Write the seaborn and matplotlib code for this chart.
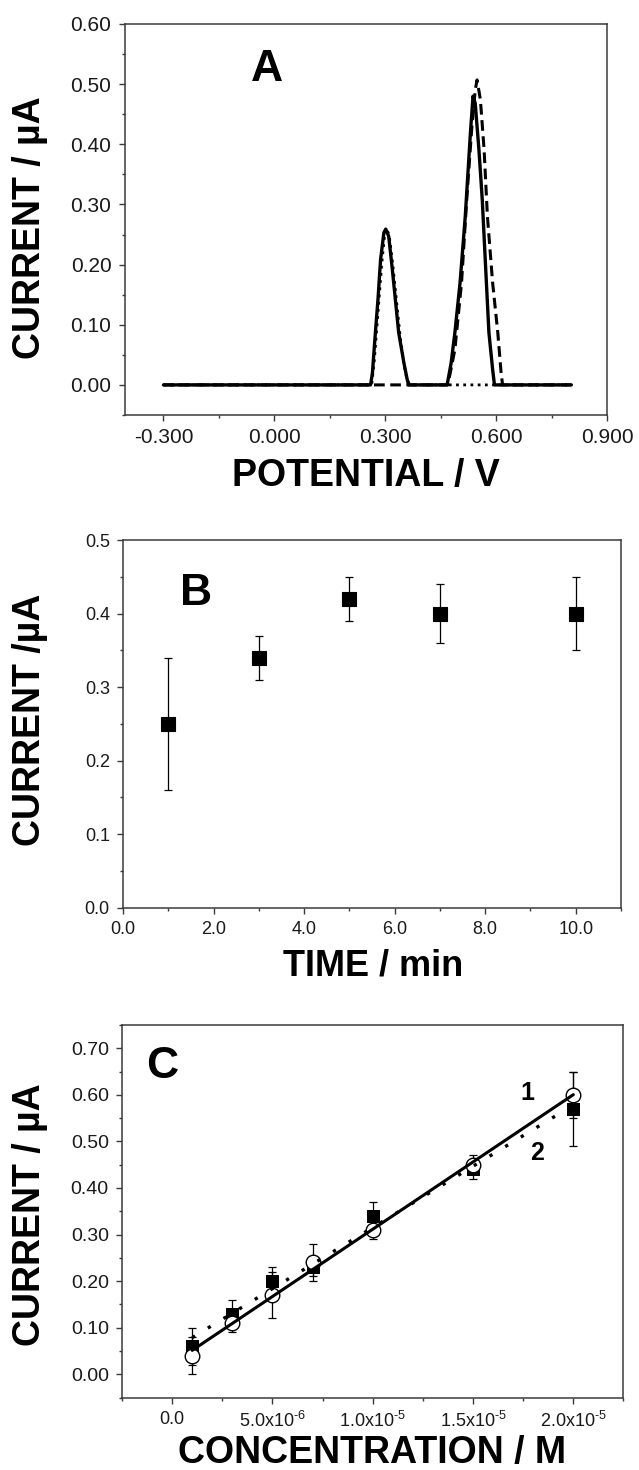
import matplotlib
matplotlib.use("Agg")
import matplotlib.pyplot as plt
import seaborn as sns
import numpy as np
import pandas as pd
from matplotlib.ticker import MultipleLocator, FixedLocator, FixedFormatter, FormatStrFormatter

# ---------------- data ----------------
# Panel A: differential pulse voltammograms
a_solid_x = [-0.300, 0.260, 0.265, 0.273, 0.280, 0.287, 0.296, 0.301, 0.309, 0.318, 0.327,
             0.336, 0.350, 0.359, 0.363, 0.467, 0.478, 0.488, 0.502, 0.516, 0.530, 0.537,
             0.543, 0.553, 0.562, 0.571, 0.580, 0.590, 0.595, 0.803]
a_solid_y = [0.000, 0.000, 0.020, 0.087, 0.142, 0.208, 0.253, 0.259, 0.247, 0.197, 0.142,
             0.087, 0.037, 0.009, 0.000, 0.000, 0.037, 0.087, 0.170, 0.280, 0.419, 0.480,
             0.468, 0.391, 0.308, 0.197, 0.087, 0.026, 0.000, 0.000]
a_dot_x = [-0.300, 0.263, 0.270, 0.280, 0.290, 0.298, 0.302, 0.310, 0.320, 0.330, 0.340,
           0.350, 0.358, 0.366, 0.803]
a_dot_y = [0.000, 0.000, 0.040, 0.120, 0.200, 0.250, 0.260, 0.250, 0.200, 0.140, 0.080,
           0.035, 0.010, 0.000, 0.000]
a_dash_x = [-0.300, 0.469, 0.488, 0.506, 0.520, 0.534, 0.543, 0.548, 0.557, 0.567, 0.576,
            0.590, 0.604, 0.613, 0.617, 0.803]
a_dash_y = [0.000, 0.000, 0.059, 0.170, 0.308, 0.430, 0.490, 0.507, 0.474, 0.391, 0.280,
            0.170, 0.087, 0.020, 0.000, 0.000]

# Panel B: current vs accumulation time
b_time = [1, 3, 5, 7, 10]
b_current = [0.25, 0.34, 0.42, 0.40, 0.40]
b_err = [0.09, 0.03, 0.03, 0.04, 0.05]

# Panel C: calibration
c_conc = [1e-6, 3e-6, 5e-6, 7e-6, 1e-5, 1.5e-5, 2e-5]
c1_current = [0.04, 0.11, 0.17, 0.24, 0.31, 0.45, 0.60]   # open circles, curve 1
c1_err = [0.04, 0.02, 0.05, 0.04, 0.02, 0.02, 0.05]
c2_current = [0.06, 0.13, 0.20, 0.23, 0.34, 0.44, 0.57]   # filled squares, curve 2
c2_err = [0.04, 0.03, 0.03, 0.02, 0.03, 0.02, 0.08]
c_xticks = [0.0, 5e-6, 1e-5, 1.5e-5, 2e-5]
c_xticklabels = ["0.0", "5.0x10$^{\u20106}$", "1.0x10$^{\u20105}$", "1.5x10$^{\u20105}$", "2.0x10$^{\u20105}$"]

# ---------------- style ----------------
sns.set_theme(style="ticks")
plt.rcParams["font.family"] = ["Liberation Sans", "DejaVu Sans"]
plt.rcParams["mathtext.fontset"] = "custom"
plt.rcParams["mathtext.rm"] = "Liberation Sans"
plt.rcParams["mathtext.it"] = "Liberation Sans:italic"
plt.rcParams["mathtext.bf"] = "Liberation Sans:bold"
plt.rcParams["axes.unicode_minus"] = False
plt.rcParams["text.color"] = "black"
plt.rcParams["axes.labelcolor"] = "black"
SPINE = "#3a3a3a"

fig = plt.figure(figsize=(6.39, 14.7), dpi=100)
axA = fig.add_axes([0.1951, 0.7177, 0.7552, 0.2660])
axB = fig.add_axes([0.1925, 0.3825, 0.7793, 0.2501])
axC = fig.add_axes([0.1909, 0.0493, 0.7848, 0.2534])


def style_axes(ax, labelsize):
    for s in ax.spines.values():
        s.set_visible(True)
        s.set_color(SPINE)
        s.set_linewidth(1.1)
    ax.tick_params(which="both", direction="out", color=SPINE, width=1.0,
                   top=False, right=False)
    ax.tick_params(which="major", length=4.5, pad=5, labelsize=labelsize, labelcolor="#1a1a1a")
    ax.tick_params(which="minor", length=2.5)
    ax.grid(False)
    ax.set_facecolor("white")


# ---------------- Panel A ----------------
dfA_dot = pd.DataFrame({"x": a_dot_x, "y": a_dot_y})
dfA_dash = pd.DataFrame({"x": a_dash_x, "y": a_dash_y})
dfA_solid = pd.DataFrame({"x": a_solid_x, "y": a_solid_y})
sns.lineplot(data=dfA_dot, x="x", y="y", ax=axA, color="black", lw=2.0,
             linestyle=(0, (1, 1.6)), estimator=None, sort=False)
sns.lineplot(data=dfA_dash, x="x", y="y", ax=axA, color="black", lw=2.2,
             linestyle=(0, (3.5, 1.8)), estimator=None, sort=False)
sns.lineplot(data=dfA_solid, x="x", y="y", ax=axA, color="black", lw=2.4,
             estimator=None, sort=False)
axA.set_xlim(-0.405, 0.9)
axA.set_ylim(-0.05, 0.60)
axA.xaxis.set_major_locator(FixedLocator([-0.3, 0.0, 0.3, 0.6, 0.9]))
axA.xaxis.set_minor_locator(MultipleLocator(0.15))
axA.xaxis.set_major_formatter(FormatStrFormatter("%.3f"))
axA.yaxis.set_major_locator(MultipleLocator(0.1))
axA.yaxis.set_minor_locator(MultipleLocator(0.05))
axA.yaxis.set_major_formatter(FormatStrFormatter("%.2f"))
style_axes(axA, 15)
axA.set_xlabel("POTENTIAL / V", fontsize=27, fontweight="bold", va="center")
axA.set_ylabel("CURRENT / µA", fontsize=27, fontweight="bold", va="center")
axA.xaxis.set_label_coords(0.499, -0.157)
axA.yaxis.set_label_coords(-0.196, 0.478)
axA.text(-0.019, 0.524, "A", fontsize=32, fontweight="bold", ha="center", va="center")

# ---------------- Panel B ----------------
axB.errorbar(b_time, b_current, yerr=b_err, fmt="none", ecolor="black",
             elinewidth=0.9, capsize=3, capthick=0.9, zorder=2)
sns.scatterplot(x=b_time, y=b_current, ax=axB, marker="s", s=100, color="black",
                edgecolor="black", zorder=3)
axB.set_xlim(0, 11)
axB.set_ylim(0, 0.5)
axB.xaxis.set_major_locator(MultipleLocator(2))
axB.xaxis.set_minor_locator(MultipleLocator(1))
axB.xaxis.set_major_formatter(FormatStrFormatter("%.1f"))
axB.yaxis.set_major_locator(MultipleLocator(0.1))
axB.yaxis.set_minor_locator(MultipleLocator(0.05))
axB.yaxis.set_major_formatter(FormatStrFormatter("%.1f"))
style_axes(axB, 13)
axB.set_xlabel("TIME / min", fontsize=26, fontweight="bold", va="center")
axB.set_ylabel("CURRENT /µA", fontsize=27, fontweight="bold", va="center")
axB.xaxis.set_label_coords(0.502, -0.159)
axB.yaxis.set_label_coords(-0.187, 0.51)
axB.text(1.62, 0.427, "B", fontsize=32, fontweight="bold", ha="center", va="center")

# ---------------- Panel C ----------------
axC.errorbar(c_conc, c2_current, yerr=c2_err, fmt="none", ecolor="black",
             elinewidth=0.9, capsize=3, capthick=0.9, zorder=2)
axC.errorbar(c_conc, c1_current, yerr=c1_err, fmt="none", ecolor="black",
             elinewidth=0.9, capsize=3, capthick=0.9, zorder=2)
sns.scatterplot(x=c_conc, y=c2_current, ax=axC, marker="s", s=85, color="black",
                edgecolor="black", zorder=3)
sns.scatterplot(x=c_conc, y=c1_current, ax=axC, marker="o", s=110, facecolor="white",
                edgecolor="black", linewidth=1.0, zorder=4)
sns.regplot(x=c_conc, y=c2_current, ax=axC, ci=None, scatter=False, truncate=True,
            line_kws=dict(color="black", lw=2.4, linestyle=(0, (1, 4.5)), zorder=5))
sns.regplot(x=c_conc, y=c1_current, ax=axC, ci=None, scatter=False, truncate=True,
            line_kws=dict(color="black", lw=2.2, zorder=5))
axC.set_xlim(-2.5e-6, 2.25e-5)
axC.set_ylim(-0.05, 0.75)
axC.xaxis.set_major_locator(FixedLocator(c_xticks))
axC.xaxis.set_major_formatter(FixedFormatter(c_xticklabels))
axC.xaxis.set_minor_locator(MultipleLocator(2.5e-6))
axC.yaxis.set_major_locator(FixedLocator([0.0, 0.1, 0.2, 0.3, 0.4, 0.5, 0.6, 0.7]))
axC.yaxis.set_minor_locator(MultipleLocator(0.05))
axC.yaxis.set_major_formatter(FormatStrFormatter("%.2f"))
style_axes(axC, 14)
axC.tick_params(axis="x", labelsize=13)
axC.set_xlabel("CONCENTRATION / M", fontsize=27, fontweight="bold", va="center")
axC.set_ylabel("CURRENT / µA", fontsize=27, fontweight="bold", va="center")
axC.xaxis.set_label_coords(0.4995, -0.150)
axC.yaxis.set_label_coords(-0.183, 0.49)
axC.text(-0.5e-6, 0.66, "C", fontsize=32, fontweight="bold", ha="center", va="center")
axC.text(1.77e-5, 0.605, "1", fontsize=18, fontweight="bold", ha="center", va="center")
axC.text(1.817e-5, 0.475, "2", fontsize=18, fontweight="bold", ha="center", va="center")

fig.savefig("out.png", dpi=100, facecolor="white")
